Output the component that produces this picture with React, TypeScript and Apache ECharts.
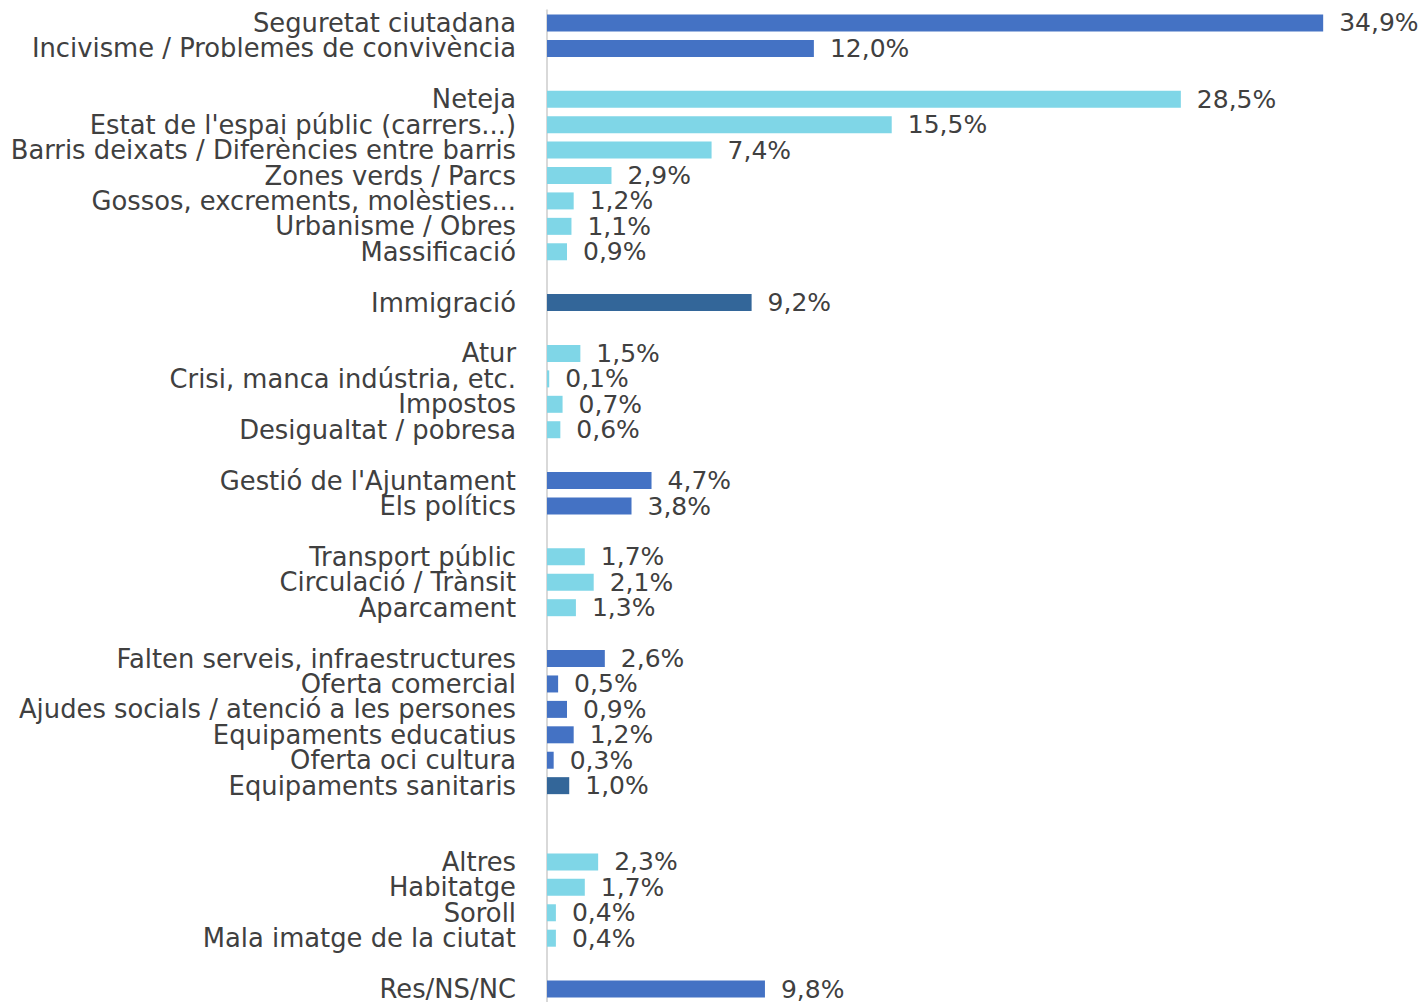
import React, { useEffect, useRef } from "react";
import * as echarts from "echarts";

const BLUE = "#4472C4";
const CYAN = "#7FD6E7";
const NAVY = "#336699";

// gaps are rows with null value (unique whitespace labels)
const categories: string[] = [
  "Seguretat ciutadana",
  "Incivisme / Problemes de convivència",
  " ",
  "Neteja",
  "Estat de l'espai públic (carrers...)",
  "Barris deixats / Diferències entre barris",
  "Zones verds / Parcs",
  "Gossos, excrements, molèsties...",
  "Urbanisme / Obres",
  "Massificació",
  "  ",
  "Immigració",
  "   ",
  "Atur",
  "Crisi, manca indústria, etc.",
  "Impostos",
  "Desigualtat / pobresa",
  "    ",
  "Gestió de l'Ajuntament",
  "Els polítics",
  "     ",
  "Transport públic",
  "Circulació / Trànsit",
  "Aparcament",
  "      ",
  "Falten serveis, infraestructures",
  "Oferta comercial",
  "Ajudes socials / atenció a les persones",
  "Equipaments educatius",
  "Oferta oci cultura",
  "Equipaments sanitaris",
  "       ",
  "        ",
  "Altres",
  "Habitatge",
  "Soroll",
  "Mala imatge de la ciutat",
  "         ",
  "Res/NS/NC",
];

const values: (number | null)[] = [
  34.9, 12.0, null,
  28.5, 15.5, 7.4, 2.9, 1.2, 1.1, 0.9, null,
  9.2, null,
  1.5, 0.1, 0.7, 0.6, null,
  4.7, 3.8, null,
  1.7, 2.1, 1.3, null,
  2.6, 0.5, 0.9, 1.2, 0.3, 1.0, null, null,
  2.3, 1.7, 0.4, 0.4, null,
  9.8,
];

const colorKeys: string[] = [
  "b", "b", "-",
  "c", "c", "c", "c", "c", "c", "c", "-",
  "n", "-",
  "c", "c", "c", "c", "-",
  "b", "b", "-",
  "c", "c", "c", "-",
  "b", "b", "b", "b", "b", "n", "-", "-",
  "c", "c", "c", "c", "-",
  "b",
];

const colorMap: Record<string, string> = { b: BLUE, c: CYAN, n: NAVY, "-": BLUE };

export default function App() {
  const ref = useRef<HTMLDivElement>(null);
  useEffect(() => {
    if (!ref.current) return;
    const chart = echarts.init(ref.current, null, { renderer: "svg" });
    const n = categories.length;
    const band = (992 - 23) / (n - 1);
    const pxPer = 22.24;
    const xMax = 36;
    chart.setOption({
      animation: false,
      grid: {
        left: 547,
        top: 23 - band / 2,
        height: band * n,
        width: pxPer * xMax,
        containLabel: false,
      },
      xAxis: {
        type: "value",
        min: 0,
        max: xMax,
        show: false,
      },
      yAxis: {
        type: "category",
        inverse: true,
        data: categories,
        axisLine: { show: true, lineStyle: { color: "#D9D9D9", width: 2 } },
        axisTick: { show: false },
        axisLabel: {
          margin: 31,
          fontFamily: "DejaVu Sans",
          fontSize: 25.8,
          color: "#404040",
          interval: 0,
          padding: [2, 0, 0, 0],
        },
      },
      series: [
        {
          type: "bar",
          barWidth: 17,
          data: values.map((v, i) => ({
            value: v,
            itemStyle: { color: colorMap[colorKeys[i]] },
          })),
          label: {
            show: true,
            position: "right",
            distance: 16,
            fontFamily: "DejaVu Sans",
            fontSize: 25,
            color: "#404040",
            padding: [3, 0, 0, 0],
            formatter: (p: any) =>
              p.value == null ? "" : p.value.toFixed(1).replace(".", ",") + "%",
          },
        },
      ],
    });
    return () => chart.dispose();
  }, []);
  return (
    <div
      ref={ref}
      style={{ position: "fixed", left: 0, top: 0, width: 1422, height: 1002, background: "#fff" }}
    />
  );
}
